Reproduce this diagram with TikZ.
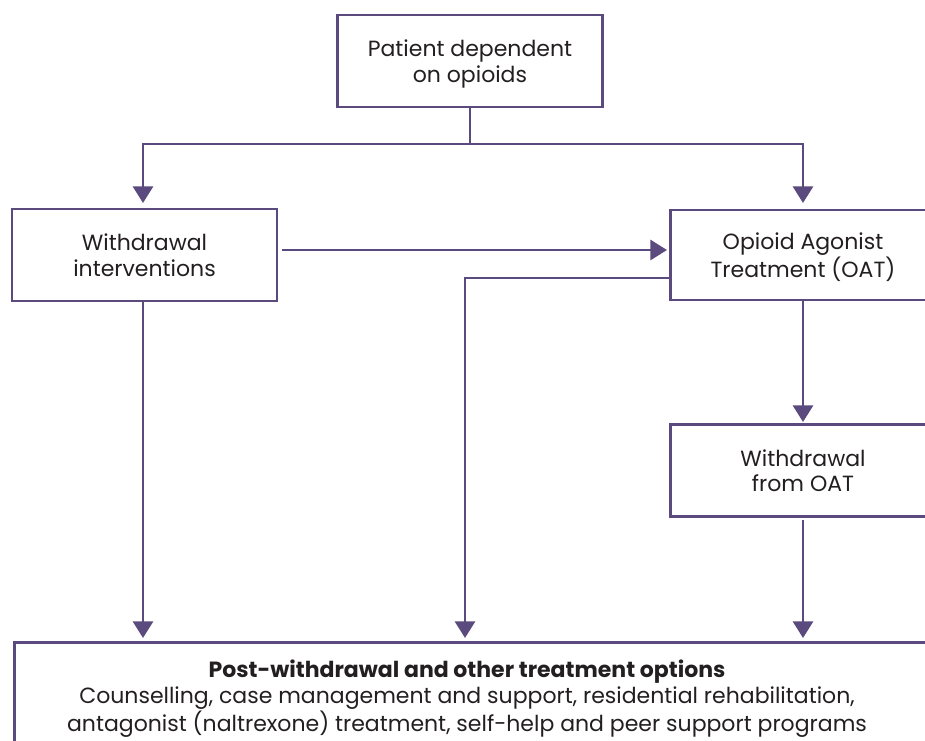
\documentclass[tikz,border=0pt]{standalone}
\usepackage{fontspec}
\setmainfont{Poppins}
\usetikzlibrary{arrows.meta,calc}
\definecolor{purp}{RGB}{91,74,126}
\definecolor{ink}{RGB}{35,31,32}
\tikzset{
  box/.style={draw=purp, line width=2.2pt, fill=white, minimum width=198.75pt, minimum height=69pt,
    inner sep=0pt, align=center, text=ink, text depth=0pt, font=\fontsize{16.5}{19}\selectfont},
  conn/.style={draw=purp, line width=2.2pt},
  arr/.style={conn, -{Triangle[width=15pt,length=12.5pt]}},
}
\begin{document}
\begin{tikzpicture}[x=0.75pt,y=-0.75pt]
\useasboundingbox (0,0) rectangle (925,740);
\clip (0,0) rectangle (925,740);
\node[box] (top) at (470,61) {Patient dependent\\on opioids};
\node[box] (wi) at (144.5,255) {Withdrawal\\interventions};
\node[box, minimum height=67.5pt] (oat) at (803,255) {Opioid Agonist\\Treatment (OAT)};
\node[box] (woat) at (803,470.5) {Withdrawal\\from OAT};
\node[draw=purp, line width=2.2pt, anchor=north west, minimum width=692.25pt, minimum height=150pt, inner sep=0pt] (bot) at (13,641) {};
\node[text=ink, align=center, anchor=north, font=\fontsize{16.5}{19}\selectfont, inner sep=0pt] (bottxt) at (467,660)
  {\textbf{Post-withdrawal and other treatment options}\\
   Counselling, case management and support, residential rehabilitation,\\
   antagonist (naltrexone) treatment, self-help and peer support programs};
\coordinate (split) at (470,144);
\draw[conn] (top.south) -- (split);
\draw[arr] (split) -| (143,203);
\draw[arr] (split) -| (803,203);
\draw[arr] (282,250) -- (667,250);
\draw[arr] ([yshift=-17.25pt]oat.west) -| (465,638);
\draw[arr] (143,301) -- (143,638);
\draw[arr] (oat.south) -- (803,422);
\draw[arr] (803,520) -- (803,638);
\end{tikzpicture}
\end{document}
